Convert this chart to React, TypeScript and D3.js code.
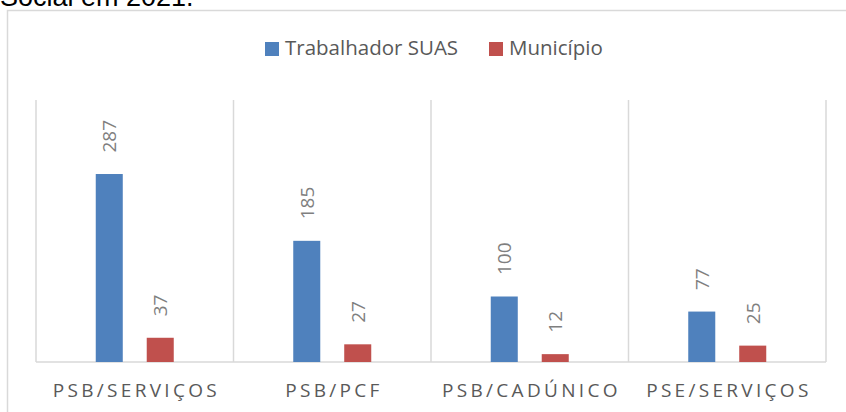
import React from "react";
import * as d3 from "d3";

const categories = ["PSB/SERVIÇOS", "PSB/PCF", "PSB/CADÚNICO", "PSE/SERVIÇOS"];
const seriesNames = ["Trabalhador SUAS", "Município"];
const trabalhadorSUAS = [287, 185, 100, 77];
const municipio = [37, 27, 12, 25];
const seriesColors = ["#4f81bd", "#c0504d"];
const titleText = "Social em 2021.";

const W = 846;
const H = 412;
const plot = { left: 36, right: 826, top: 100, bottom: 362 };

export default function App() {
  const x = d3.scaleBand<string>().domain(categories).range([plot.left, plot.right]).padding(0);
  const cw = x.bandwidth();
  const xs = d3
    .scaleBand<string>()
    .domain(seriesNames)
    .range([cw / 2 - 39, cw / 2 + 39])
    .paddingInner(0.47)
    .paddingOuter(0);
  const y = d3.scaleLinear().domain([0, 400]).range([plot.bottom, plot.top]);
  const values = [trabalhadorSUAS, municipio];
  const font = "'Open Sans', sans-serif";
  const grid = "#d9d9d9";
  const ls = 3.3;

  const boundaries = categories.map((c) => x(c) as number).concat([plot.right]);

  return (
    <svg
      width={W}
      height={H}
      style={{ position: "absolute", left: 0, top: 0, background: "#fff" }}
    >
      <rect x={0} y={0} width={W} height={H} fill="#fff" />
      <text x={0} y={6} fontFamily="'Liberation Sans', Arial, sans-serif" fontSize={27} fill="#000">
        {titleText}
      </text>
      <rect x={7.5} y={10.5} width={W + 20} height={H + 20} fill="none" stroke={grid} strokeWidth={1.5} />

      {/* legend */}
      <g fontFamily={font} fontSize={20.5} fill="#595959">
        <rect x={265} y={42} width={14} height={14} fill={seriesColors[0]} />
        <text x={285} y={55}>{seriesNames[0]}</text>
        <rect x={489} y={42} width={14} height={14} fill={seriesColors[1]} />
        <text x={509} y={55}>{seriesNames[1]}</text>
      </g>

      {/* gridlines */}
      {boundaries.map((bx, i) => (
        <line key={i} x1={bx} x2={bx} y1={plot.top} y2={plot.bottom} stroke={grid} strokeWidth={1.5} />
      ))}
      <line x1={plot.left} x2={plot.right} y1={plot.bottom} y2={plot.bottom} stroke={grid} strokeWidth={1.5} />

      {/* bars */}
      {values.map((vals, si) =>
        vals.map((v, ci) => {
          const bx = (x(categories[ci]) as number) + (xs(seriesNames[si]) as number);
          const bw = xs.bandwidth();
          const top = y(v);
          const cx = bx + bw / 2;
          const ly = top - 21.5;
          return (
            <g key={`${si}-${ci}`}>
              <rect x={bx} y={top} width={bw} height={plot.bottom - top} fill={seriesColors[si]} />
              <text
                transform={`translate(${cx},${ly}) rotate(-90)`}
                textAnchor="start"
                dominantBaseline="central"
                fontFamily={font}
                fontSize={19}
                fill="#7f7f7f"
              >
                {v}
              </text>
            </g>
          );
        })
      )}

      {/* category labels */}
      {categories.map((c) => (
        <text
          key={c}
          x={(x(c) as number) + cw / 2 + ls / 2}
          y={396.5}
          textAnchor="middle"
          fontFamily={font}
          fontSize={19}
          letterSpacing={ls}
          fill="#595959"
        >
          {c}
        </text>
      ))}
    </svg>
  );
}
